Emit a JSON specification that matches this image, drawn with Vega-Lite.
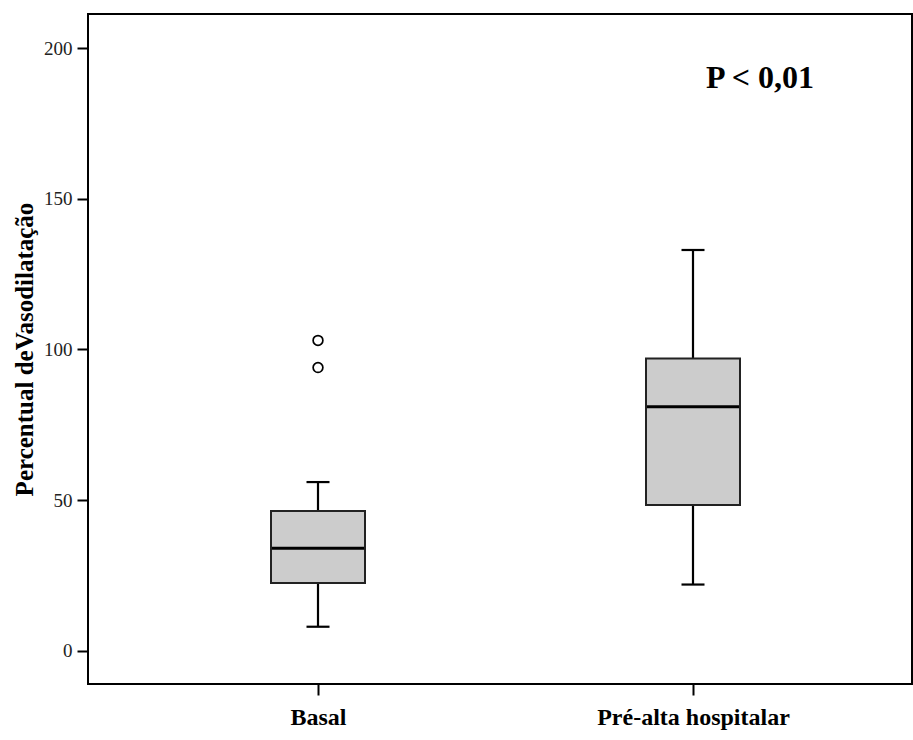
{
  "$schema": "https://vega.github.io/schema/vega-lite/v6.json",
  "width": 824,
  "height": 670,
  "autosize": {"type": "none"},
  "padding": {"left": 88, "top": 14, "right": 1, "bottom": 56},
  "background": "white",
  "config": {
    "view": {"stroke": "black", "strokeWidth": 2},
    "font": "Liberation Serif"
  },
  "datasets": {
    "boxes": [
      {"grupo": "Basal", "min": 8, "q1": 22.5, "median": 34, "q3": 46.4, "max": 56},
      {"grupo": "Pré-alta hospitalar", "min": 22, "q1": 48.4, "median": 81, "q3": 97, "max": 133}
    ],
    "outliers": [
      {"grupo": "Basal", "valor": 103},
      {"grupo": "Basal", "valor": 94}
    ],
    "nota": [
      {"grupo": "Pré-alta hospitalar", "valor": 190, "texto": "P < 0,01"}
    ]
  },
  "encoding": {
    "x": {
      "field": "grupo",
      "type": "nominal",
      "sort": ["Basal", "Pré-alta hospitalar"],
      "scale": {"type": "point", "domain": ["Basal", "Pré-alta hospitalar"], "range": [230, 605], "padding": 0},
      "axis": {
        "title": null,
        "labelAngle": 0,
        "labelFont": "Liberation Serif",
        "labelFontSize": 24,
        "labelFontWeight": "bold",
        "labelColor": "black",
        "labelPadding": 10,
        "labelLimit": 500,
        "tickColor": "black",
        "tickSize": 11,
        "tickWidth": 2,
        "domain": false,
        "grid": false
      }
    }
  },
  "layer": [
    {
      "data": {"name": "boxes"},
      "mark": {"type": "rule", "color": "black", "strokeWidth": 2.2},
      "encoding": {
        "y": {
          "field": "min",
          "type": "quantitative",
          "scale": {"domain": [-11, 211.3], "nice": false, "zero": false},
          "axis": {
            "title": "Percentual deVasodilatação",
            "titleFont": "Liberation Serif",
            "titleFontSize": 25,
            "titleFontWeight": "bold",
            "titleColor": "black",
            "titlePadding": 6,
            "values": [0, 50, 100, 150, 200],
            "labelFont": "Liberation Serif",
            "labelFontSize": 19,
            "labelColor": "#222",
            "labelPadding": 5,
            "tickColor": "black",
            "tickSize": 11,
            "tickWidth": 2,
            "domain": false,
            "grid": false
          }
        },
        "y2": {"field": "max"}
      }
    },
    {
      "data": {"name": "boxes"},
      "mark": {"type": "bar", "width": 94, "fill": "#cccccc", "stroke": "#222", "strokeWidth": 2},
      "encoding": {
        "y": {"field": "q1", "type": "quantitative"},
        "y2": {"field": "q3"}
      }
    },
    {
      "data": {"name": "boxes"},
      "mark": {"type": "tick", "color": "black", "size": 92, "thickness": 3, "opacity": 1},
      "encoding": {
        "y": {"field": "median", "type": "quantitative"}
      }
    },
    {
      "data": {"name": "boxes"},
      "mark": {"type": "tick", "color": "black", "size": 23, "thickness": 2.2, "opacity": 1},
      "encoding": {
        "y": {"field": "min", "type": "quantitative"}
      }
    },
    {
      "data": {"name": "boxes"},
      "mark": {"type": "tick", "color": "black", "size": 23, "thickness": 2.2, "opacity": 1},
      "encoding": {
        "y": {"field": "max", "type": "quantitative"}
      }
    },
    {
      "data": {"name": "outliers"},
      "mark": {"type": "point", "shape": "circle", "filled": false, "color": "black", "size": 95, "strokeWidth": 1.7, "opacity": 1},
      "encoding": {
        "y": {"field": "valor", "type": "quantitative"}
      }
    },
    {
      "data": {"name": "nota"},
      "mark": {"type": "text", "font": "Liberation Serif", "fontSize": 32, "fontWeight": "bold", "color": "black", "dx": 67, "baseline": "middle", "align": "center"},
      "encoding": {
        "y": {"field": "valor", "type": "quantitative"},
        "text": {"field": "texto"}
      }
    }
  ]
}
